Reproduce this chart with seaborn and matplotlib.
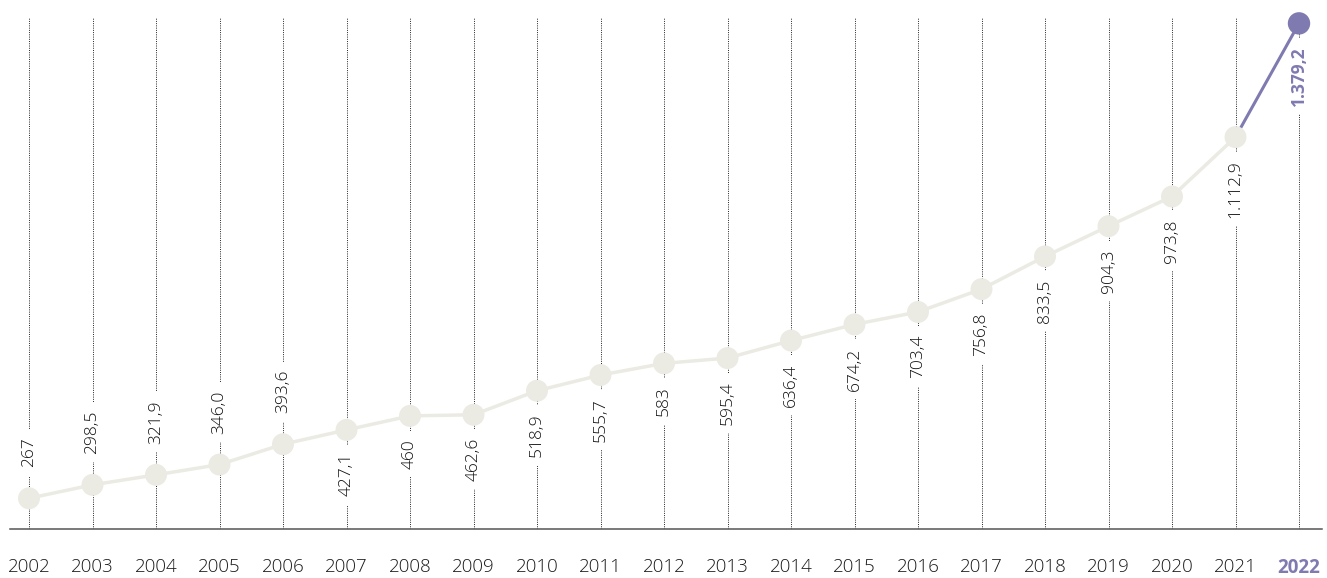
import matplotlib
matplotlib.use("Agg")
import matplotlib.pyplot as plt
import seaborn as sns
import pandas as pd

years = list(range(2002, 2023))
values = [267.0, 298.5, 321.9, 346.0, 393.6, 427.1, 460.0, 462.6, 518.9, 555.7,
          583.0, 595.4, 636.4, 674.2, 703.4, 756.8, 833.5, 904.3, 973.8, 1112.9, 1379.2]
value_labels = ["267", "298,5", "321,9", "346,0", "393,6", "427,1", "460", "462,6",
                "518,9", "555,7", "583", "595,4", "636,4", "674,2", "703,4", "756,8",
                "833,5", "904,3", "973,8", "1.112,9", "1.379,2"]
year_labels = [str(y) for y in years]

BASE = "#ebebe4"
ACCENT = "#7f7ab0"
TEXT = "#111111"

sns.set_theme(style="white")
plt.rcParams["font.family"] = ["Open Sans", "DejaVu Sans"]

df = pd.DataFrame({"year": years, "value": values})

W, H = 1327, 578
fig = plt.figure(figsize=(W / 100, H / 100), dpi=100)
ax = fig.add_axes([10 / W, 49 / H, 1312 / W, 511 / H])

ax.set_xlim(2002 - 19 / 63.5, 2002 + (1312 - 19) / 63.5)
ax.set_ylim(195.1, 1391.8)

# dotted guides for every year
ax.vlines(years, 195.1, 1391.8, colors="#222222", linewidth=0.7,
          linestyles=(0, (1, 1.3)), zorder=1)

# history in light tone, latest step highlighted
sns.lineplot(data=df.iloc[:-1], x="year", y="value", color=BASE, linewidth=2.5,
             ax=ax, zorder=4)
sns.lineplot(data=df.iloc[-2:], x="year", y="value", color=ACCENT, linewidth=2.2,
             ax=ax, zorder=4)
sns.scatterplot(data=df.iloc[:-1], x="year", y="value", color=BASE, s=250,
                edgecolor="none", ax=ax, zorder=5, clip_on=False)
sns.scatterplot(data=df.iloc[-1:], x="year", y="value", color=ACCENT, s=260,
                edgecolor="none", ax=ax, zorder=5, clip_on=False)

for i, (yr, v, lab) in enumerate(zip(years, values, value_labels)):
    last = i == len(years) - 1
    if i < 5:
        off, va = 22.3, "bottom"
    else:
        off, va = -16.6, "top"
    ax.annotate(lab, (yr, v), xytext=(0, off), textcoords="offset points",
                rotation=90, ha="center", va=va, fontsize=12.5,
                color=ACCENT if last else TEXT,
                fontweight="bold" if last else "light",
                bbox=dict(facecolor="white", edgecolor="none", pad=6),
                zorder=3, annotation_clip=False)

ax.set_xticks(years)
ax.set_xticklabels(year_labels, fontsize=13.5, color="#1a1a1a", fontweight="light")
lbls = ax.get_xticklabels()
lbls[-1].set_color(ACCENT)
lbls[-1].set_fontweight("bold")
ax.tick_params(axis="x", length=0, pad=21)
ax.set_yticks([])
ax.set_xlabel("")
ax.set_ylabel("")

for side in ["top", "left", "right"]:
    ax.spines[side].set_visible(False)
ax.spines["bottom"].set_color("#555555")
ax.spines["bottom"].set_linewidth(1.1)

fig.savefig("out.png", dpi=100)
